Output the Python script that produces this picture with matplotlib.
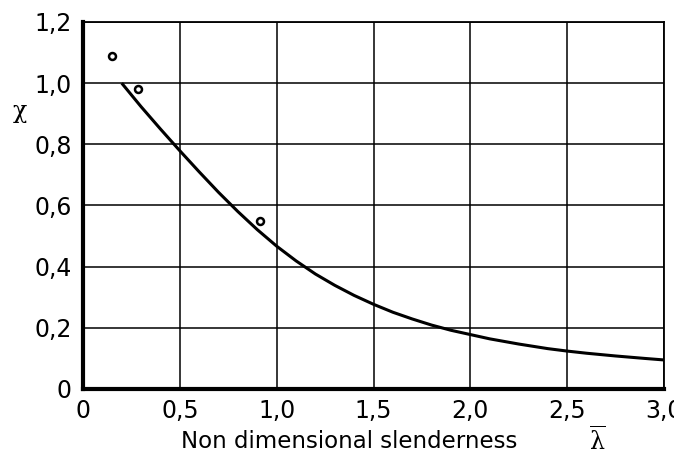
import matplotlib
matplotlib.use('Agg')
import matplotlib.pyplot as plt

# buckling reduction curve
lam_curve = [0.2, 0.3, 0.4, 0.5, 0.6, 0.7, 0.8, 0.9, 1.0, 1.1, 1.2, 1.3, 1.4,
             1.5, 1.6, 1.7, 1.8, 1.9, 2.0, 2.1, 2.25, 2.4, 2.5, 2.6, 2.75,
             2.9, 3.0]
chi_curve = [1.0, 0.923, 0.850, 0.779, 0.710, 0.643, 0.580, 0.521, 0.467,
             0.419, 0.376, 0.339, 0.306, 0.277, 0.251, 0.229, 0.209, 0.192,
             0.178, 0.164, 0.147, 0.132, 0.124, 0.117, 0.108, 0.100, 0.095]

# test points
lam_pts = [0.15, 0.285, 0.915]
chi_pts = [1.09, 0.98, 0.55]

xticks = [0, 0.5, 1.0, 1.5, 2.0, 2.5, 3.0]
xtick_labels = ['0', '0,5', '1,0', '1,5', '2,0', '2,5', '3,0']
yticks = [0, 0.2, 0.4, 0.6, 0.8, 1.0, 1.2]
ytick_labels = ['0', '0,2', '0,4', '0,6', '0,8', '1,0', '1,2']

plt.rcParams['font.family'] = ['DejaVu Sans']
plt.rcParams['mathtext.fontset'] = 'dejavuserif'

fig = plt.figure(figsize=(6.74, 4.59), dpi=100)
ax = fig.add_axes([83 / 674, 1 - 389 / 459, 581 / 674, 367 / 459])

ax.plot(lam_curve, chi_curve, color='black', lw=2.2, solid_capstyle='butt',
        solid_joinstyle='round', zorder=3)
ax.plot(lam_pts, chi_pts, 'o', ms=5, mfc='white', mec='black', mew=1.8,
        clip_on=False, zorder=4)

ax.set_xlim(0, 3.0)
ax.set_ylim(0, 1.2)
ax.set_xticks(xticks)
ax.set_xticklabels(xtick_labels)
ax.set_yticks(yticks)
ax.set_yticklabels(ytick_labels)
ax.tick_params(length=0, labelsize=17)
ax.tick_params(axis='x', pad=7)
ax.tick_params(axis='y', pad=8)
ax.grid(True, color='black', lw=1.1)

for s in ['left', 'bottom']:
    ax.spines[s].set_linewidth(3)
for s in ['top', 'right']:
    ax.spines[s].set_linewidth(1.3)

ax.text(-0.108, 0.906, 'χ', transform=ax.get_yaxis_transform(), fontsize=17,
        family='DejaVu Serif', ha='center', va='center')
fig.text(349 / 674, 1 - 441 / 459, 'Non dimensional slenderness', fontsize=16.5,
         ha='center', va='center')
fig.text(597 / 674, 1 - 441 / 459, r'$\overline{\mathrm{\lambda}}$', fontsize=17,
         ha='center', va='center')

fig.savefig('out.png', dpi=100)
